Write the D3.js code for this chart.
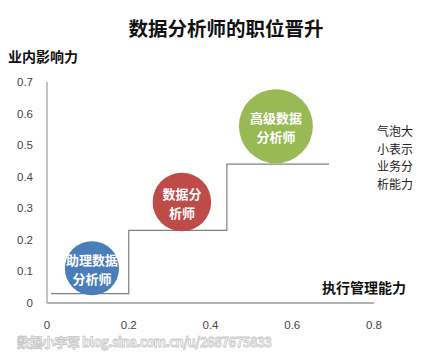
<!DOCTYPE html>
<html>
<head>
<meta charset="utf-8">
<script src="https://cdn.jsdelivr.net/npm/d3@7"></script>
<style>
  body { margin: 0; background: #fff; }
  svg { display: block; }
</style>
</head>
<body>
<div id="chart"></div>
<script>
// bubble data: 职位, 执行管理能力 (x), 业内影响力 (y), 业务分析能力 (bubble size)
const roles = [["助理数据", "分析师"], ["数据分", "析师"], ["高级数据", "分析师"]]
const execValues = [0.11, 0.33, 0.56]
const influenceValues = [0.11, 0.32, 0.56]
const sizeValues = [3, 3.5, 5.6]
const colors = ["#4a7ebb", "#be4b48", "#98b954"]

// step line (career ladder)
const stepX = [0.01, 0.2, 0.2, 0.44, 0.44, 0.69]
const stepY = [0.03, 0.03, 0.23, 0.23, 0.44, 0.44]

const xTicks = [0, 0.2, 0.4, 0.6, 0.8]
const yTicks = [0, 0.1, 0.2, 0.3, 0.4, 0.5, 0.6, 0.7]
const legendLines = ["气泡大", "小表示", "业务分", "析能力"]

const width = 431, height = 362
const cjk = "'Noto Sans CJK SC', sans-serif"

const x = d3.scaleLinear().domain([0, 0.8]).range([47, 374])
const y = d3.scaleLinear().domain([0, 0.7]).range([303, 82])
const r = d3.scaleSqrt().domain([0, d3.max(sizeValues)]).range([0, 37])

const svg = d3.select("#chart").append("svg")
  .attr("width", width)
  .attr("height", height)

// title
svg.append("text")
  .attr("x", 226).attr("y", 36)
  .attr("text-anchor", "middle")
  .style("font", `bold 19.5px ${cjk}`)
  .attr("fill", "#111")
  .text("数据分析师的职位晋升")

svg.append("text")
  .attr("x", 8).attr("y", 62)
  .style("font", `bold 14px ${cjk}`)
  .attr("fill", "#111")
  .text("业内影响力")

svg.append("text")
  .attr("x", 322).attr("y", 293)
  .style("font", `bold 14px ${cjk}`)
  .attr("fill", "#111")
  .text("执行管理能力")

// axes lines
svg.append("line")
  .attr("x1", x(0)).attr("x2", x(0))
  .attr("y1", y(0.7)).attr("y2", y(0))
  .attr("stroke", "#9a9a9a").attr("stroke-width", 1.2)
svg.append("line")
  .attr("x1", x(0)).attr("x2", x(0.8))
  .attr("y1", y(0)).attr("y2", y(0))
  .attr("stroke", "#9a9a9a").attr("stroke-width", 1.5)

// tick labels
svg.append("g").selectAll("text")
  .data(yTicks)
  .enter().append("text")
    .attr("x", 33)
    .attr("y", d => y(d))
    .attr("dy", "0.35em")
    .attr("text-anchor", "end")
    .style("font", "11.5px 'Liberation Sans', Arial, sans-serif")
    .attr("fill", "#444")
    .text(d => d)

svg.append("g").selectAll("text")
  .data(xTicks)
  .enter().append("text")
    .attr("x", d => x(d))
    .attr("y", 325)
    .attr("dy", "0.35em")
    .attr("text-anchor", "middle")
    .style("font", "11.5px 'Liberation Sans', Arial, sans-serif")
    .attr("fill", "#444")
    .text(d => d)

// step line
const line = d3.line()
  .x(d => x(d[0]))
  .y(d => y(d[1]))
svg.append("path")
  .datum(d3.zip(stepX, stepY))
  .attr("d", line)
  .attr("fill", "none")
  .attr("stroke", "#7f7f7f")
  .attr("stroke-width", 1.2)

// bubbles
const bubbles = svg.append("g").selectAll("g")
  .data(roles.map((label, i) => ({
    label, x: execValues[i], y: influenceValues[i], size: sizeValues[i], color: colors[i]
  })))
  .enter().append("g")
    .attr("transform", d => `translate(${x(d.x)},${y(d.y)})`)

bubbles.append("clipPath")
    .attr("id", (d, i) => "clip" + i)
  .append("circle")
    .attr("r", d => r(d.size))

bubbles.append("circle")
  .attr("r", d => r(d.size))
  .attr("fill", d => d.color)

bubbles.append("g")
    .attr("clip-path", (d, i) => `url(#clip${i})`)
  .selectAll("text")
  .data(d => d.label)
  .enter().append("text")
    .attr("y", (d, i) => (i - 0.5) * 19 + 2)
    .attr("dy", "0.35em")
    .attr("text-anchor", "middle")
    .style("font", `bold 13px ${cjk}`)
    .attr("fill", "#fff")
    .text(d => d)

// legend note
svg.append("g").selectAll("text")
  .data(legendLines)
  .enter().append("text")
    .attr("x", 377)
    .attr("y", (d, i) => 132 + i * 17.6)
    .attr("dy", "0.35em")
    .style("font", `12px ${cjk}`)
    .attr("fill", "#222")
    .text(d => d)

// watermark
svg.append("text")
  .attr("x", 17).attr("y", 347)
  .attr("textLength", 255)
  .style("font", `bold 13px ${cjk}`)
  .attr("fill", "#fff")
  .attr("stroke", "#c4c4c4")
  .attr("stroke-width", 0.8)
  .text("数据小宇军 blog.sina.com.cn/u/2687675833")
</script>
</body>
</html>
